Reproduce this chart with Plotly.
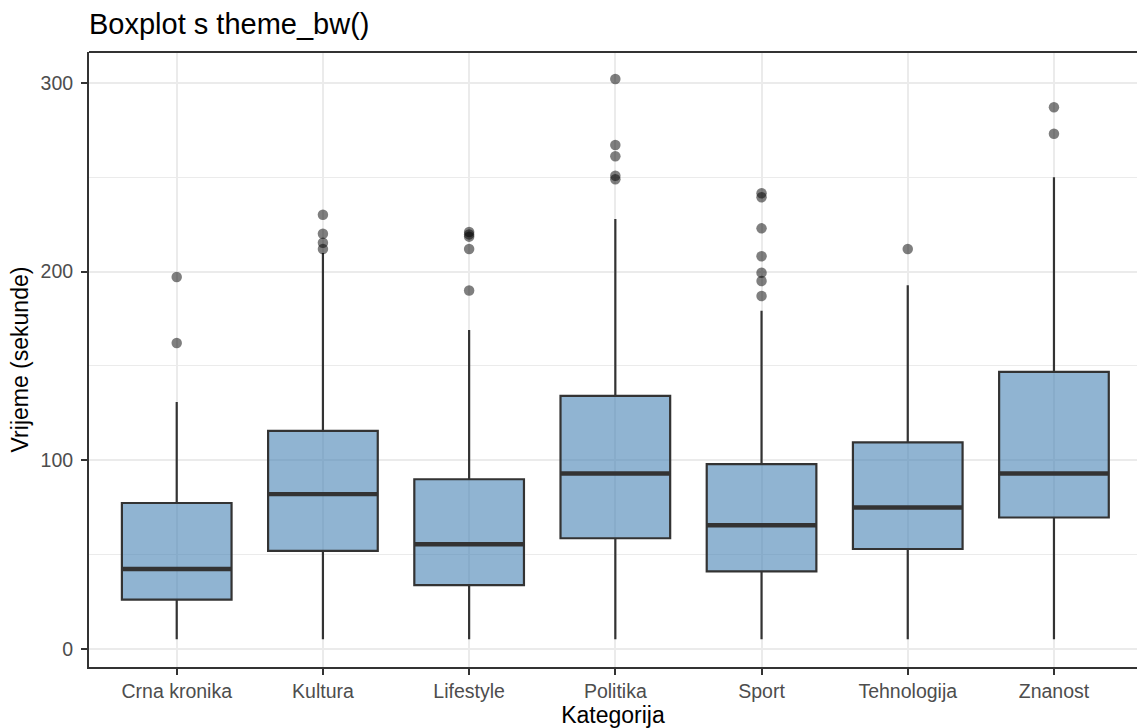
import plotly.graph_objects as go

categories = ["Crna kronika", "Kultura", "Lifestyle", "Politika", "Sport", "Tehnologija", "Znanost"]
q1_vals = [26.1, 51.9, 33.8, 58.6, 41.0, 52.9, 69.6]
median_vals = [42.3, 82.0, 55.4, 92.9, 65.5, 74.9, 92.9]
q3_vals = [77.3, 115.5, 89.9, 134.1, 97.9, 109.4, 146.8]
lower_whisker = [5, 5, 5, 5, 5, 5, 5]
upper_whisker = [130.8, 209.8, 169.0, 227.9, 179.2, 192.8, 250.0]
outliers = {
    "Crna kronika": [197.1, 162.1],
    "Kultura": [230.1, 220.0, 215.3, 212.0],
    "Lifestyle": [221.0, 219.7, 218.5, 212.0, 190.0],
    "Politika": [302.1, 267.1, 261.1, 250.8, 248.9],
    "Sport": [241.5, 239.4, 222.9, 208.1, 199.4, 195.0, 187.0],
    "Tehnologija": [212.0],
    "Znanost": [287.1, 273.1],
}
y_ticks = [0, 100, 200, 300]
y_minor = [50, 150, 250]

FONT = "Liberation Sans, Arial, sans-serif"
DARK = "#333333"
BOX_W = 0.75
pos = list(range(len(categories)))

fig = go.Figure()

fig.add_trace(go.Box(
    x=pos, q1=q1_vals, median=median_vals, q3=q3_vals,
    lowerfence=lower_whisker, upperfence=upper_whisker,
    width=BOX_W, whiskerwidth=0, boxpoints=False,
    fillcolor="rgba(70,130,180,0.6)",
    line=dict(color=DARK, width=2.2),
    hoverinfo="skip",
))

# thicker median lines
mx, my = [], []
for i, m in zip(pos, median_vals):
    mx += [i - BOX_W / 2, i + BOX_W / 2, None]
    my += [m, m, None]
fig.add_trace(go.Scatter(x=mx, y=my, mode="lines",
                         line=dict(color=DARK, width=4.4), hoverinfo="skip"))

# outliers
ox, oy = [], []
for i, c in enumerate(categories):
    for v in outliers[c]:
        ox.append(i)
        oy.append(v)
fig.add_trace(go.Scatter(x=ox, y=oy, mode="markers",
                         marker=dict(color="rgba(0,0,0,0.5)", size=10.5, line=dict(width=0)),
                         hoverinfo="skip"))

fig.update_layout(
    width=1137, height=728,
    margin=dict(l=89, r=0, t=52, b=61),
    paper_bgcolor="white", plot_bgcolor="white",
    showlegend=False,
    font=dict(family=FONT, color="#000000"),
    title=dict(text="Boxplot s theme_bw()", x=89 / 1137, xref="container", xanchor="left",
               y=1 - 24 / 728, yref="container", yanchor="middle",
               font=dict(size=29, family=FONT, color="#000000")),
    shapes=[dict(type="line", xref="paper", yref="paper", x0=0, x1=1, y0=1, y1=1,
                 line=dict(color=DARK, width=2), layer="above")],
)

fig.update_xaxes(
    range=[-0.6, 6.568], tickmode="array", tickvals=pos, ticktext=categories,
    showgrid=True, gridcolor="#EBEBEB", gridwidth=1.8,
    zeroline=False, showline=True, linecolor=DARK, linewidth=2, mirror=False,
    ticks="outside", ticklen=6, tickwidth=2, tickcolor=DARK,
    tickfont=dict(size=19.5, color="#4D4D4D", family=FONT),
    ticklabelstandoff=0,
    title=dict(text="Kategorija", font=dict(size=23, family=FONT, color="#000000"), standoff=6),
)
fig.update_yaxes(
    range=[-9.65, 316.4], tickmode="array", tickvals=y_ticks,
    showgrid=True, gridcolor="#EBEBEB", gridwidth=1.8,
    minor=dict(tickvals=y_minor, showgrid=True, gridcolor="#EBEBEB", gridwidth=1, ticks=""),
    zeroline=False, showline=True, linecolor=DARK, linewidth=2, mirror=False,
    ticks="outside", ticklen=6, tickwidth=2, tickcolor=DARK,
    tickfont=dict(size=19.5, color="#4D4D4D", family=FONT),
    ticklabelstandoff=4,
    title=dict(text="Vrijeme (sekunde)", font=dict(size=23, family=FONT, color="#000000"), standoff=6),
)

fig.write_html("out.html")
